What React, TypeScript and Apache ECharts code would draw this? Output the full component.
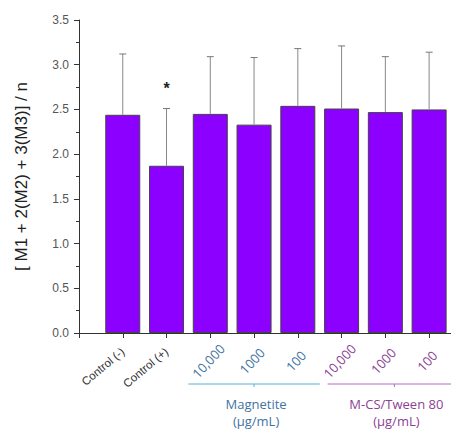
import React, { useEffect, useRef } from "react";
import * as echarts from "echarts";

const categories = ["Control (-)", "Control (+)", "10,000", "1000", "100", "10,000", "1000", "100"];
const groupOf = ["ctrl", "ctrl", "mag", "mag", "mag", "mcs", "mcs", "mcs"];
const means = [2.44, 1.87, 2.45, 2.33, 2.54, 2.51, 2.47, 2.5];
const errorTops = [3.12, 2.51, 3.09, 3.08, 3.18, 3.21, 3.09, 3.14];
const significance = ["", "*", "", "", "", "", "", ""];
const yTicks = { min: 0, max: 3.5, interval: 0.5 };
const groups = [
  { name: "Magnetite", unit: "(µg/mL)", from: 3, to: 5, color: "#5aaed6", text: "#3f74a3" },
  { name: "M-CS/Tween 80", unit: "(µg/mL)", from: 6, to: 8, color: "#b26fc0", text: "#8c3f95" },
];
const labelColors: Record<string, string> = { ctrl: "#333", mag: "#3f74a3", mcs: "#8c3f95" };

export default function App() {
  const ref = useRef<HTMLDivElement>(null);
  useEffect(() => {
    document.body.style.margin = "0";
    const chart = echarts.init(ref.current!, null, { renderer: "svg" });
    const barData = means.map((v, i) => [i + 1, v]);
    const errData = means.map((v, i) => [i + 1, v, errorTops[i], i]);
    const gridLeft = 79;
    const gridTop = 20;
    const gridHeight = 313;
    const step = 44;
    const axisMin = 0;
    const axisMax = 8.5;
    const gridWidth = (axisMax - axisMin) * step;

    const idxOf = (v: number) => (v === Math.round(v) ? Math.round(v) - 1 : -1);

    chart.setOption({
      animation: false,
      grid: { left: gridLeft, top: gridTop, width: gridWidth, height: gridHeight, containLabel: false },
      xAxis: {
        type: "value",
        min: axisMin,
        max: axisMax,
        interval: 1,
        splitLine: { show: false },
        axisLine: { show: true, onZero: false, lineStyle: { color: "#333", width: 1 } },
        axisTick: { show: true, inside: false, length: 5, lineStyle: { color: "#333" } },
        axisLabel: {
          rotate: 40,
          margin: 17,
          showMaxLabel: false,
          formatter: (v: number) => {
            const i = idxOf(v);
            return i >= 0 && i < categories.length && groupOf[i] === "ctrl" ? categories[i] : "";
          },
          color: "#333",
          fontSize: 11.5,
          fontFamily: "Liberation Sans, Arial",
        },
      },
      yAxis: {
        type: "value",
        min: yTicks.min,
        max: yTicks.max,
        interval: yTicks.interval,
        name: "[ M1 + 2(M2) + 3(M3)] / n",
        nameLocation: "middle",
        nameGap: 49,
        nameTextStyle: { fontSize: 17, color: "#222", fontFamily: "Liberation Sans, Arial" },
        splitLine: { show: false },
        axisLine: { show: true, lineStyle: { color: "#333", width: 1 } },
        axisTick: { show: true, inside: false, length: 5, lineStyle: { color: "#333" } },
        minorTick: { show: true, splitNumber: 2, length: 3, lineStyle: { color: "#333" } },
        axisLabel: {
          color: "#555",
          fontSize: 12,
          fontFamily: "Liberation Sans, Arial",
          margin: 10,
          formatter: (v: number) => v.toFixed(1),
        },
      },
      series: [
        {
          type: "bar",
          data: barData,
          barWidth: 35,
          itemStyle: { color: "#8c00ff", borderColor: "#444", borderWidth: 1 },
          z: 2,
        },
        {
          type: "custom",
          data: errData,
          z: 3,
          renderItem: (params: any, api: any) => {
            const x = api.value(0);
            const lo = api.coord([x, api.value(1)]);
            const hi = api.coord([x, api.value(2)]);
            const idx = api.value(3);
            const children: any[] = [
              {
                type: "line",
                shape: { x1: lo[0], y1: lo[1], x2: hi[0], y2: hi[1] },
                style: { stroke: "#888", lineWidth: 1 },
              },
              {
                type: "line",
                shape: { x1: hi[0] - 3.5, y1: hi[1], x2: hi[0] + 3.5, y2: hi[1] },
                style: { stroke: "#777", lineWidth: 1 },
              },
            ];
            if (significance[idx]) {
              children.push({
                type: "text",
                x: hi[0],
                y: hi[1] - 20,
                style: {
                  text: significance[idx],
                  fill: "#222",
                  font: "bold 16px 'Liberation Sans', Arial",
                  textAlign: "center",
                  textVerticalAlign: "middle",
                },
              });
            }
            return { type: "group", children };
          },
        },
      ],
    });

    const px = (v: number) => chart.convertToPixel({ xAxisIndex: 0 }, v) as number;
    const baseY = chart.convertToPixel({ yAxisIndex: 0 }, 0) as number;
    const graphics: any[] = [];
    categories.forEach((c, i) => {
      if (groupOf[i] === "ctrl") return;
      graphics.push({
        type: "text",
        x: px(i + 1) - 2,
        y: baseY + 28,
        rotation: (47 * Math.PI) / 180,
        style: {
          text: c,
          fill: labelColors[groupOf[i]],
          font: "13px 'Open Sans', sans-serif",
          textAlign: "center",
          textVerticalAlign: "middle",
        },
      });
    });
    groups.forEach((g, gi) => {
      const x1 = gi === 0 ? px(g.from) - 22 : px(g.from) - 14;
      const x2 = gi === 0 ? px(g.to) + 22 : px(g.to) + 32;
      const xm = (x1 + x2) / 2;
      const y = 384;
      graphics.push({
        type: "line",
        shape: { x1: x1, y1: y, x2: x2, y2: y },
        style: { stroke: g.color, lineWidth: 1 },
      });
      graphics.push({
        type: "line",
        shape: { x1: xm, y1: y, x2: xm, y2: y + 3 },
        style: { stroke: g.color, lineWidth: 1 },
      });
      [g.name, g.unit].forEach((t, k) => {
        graphics.push({
          type: "text",
          x: xm + 2,
          y: 404 + k * 17,
          style: {
            text: t,
            fill: g.text,
            font: "13px 'Open Sans', sans-serif",
            textAlign: "center",
            textVerticalAlign: "middle",
          },
        });
      });
    });
    chart.setOption({ graphic: graphics });

    return () => chart.dispose();
  }, []);
  return <div ref={ref} style={{ width: 451, height: 430 }} />;
}
